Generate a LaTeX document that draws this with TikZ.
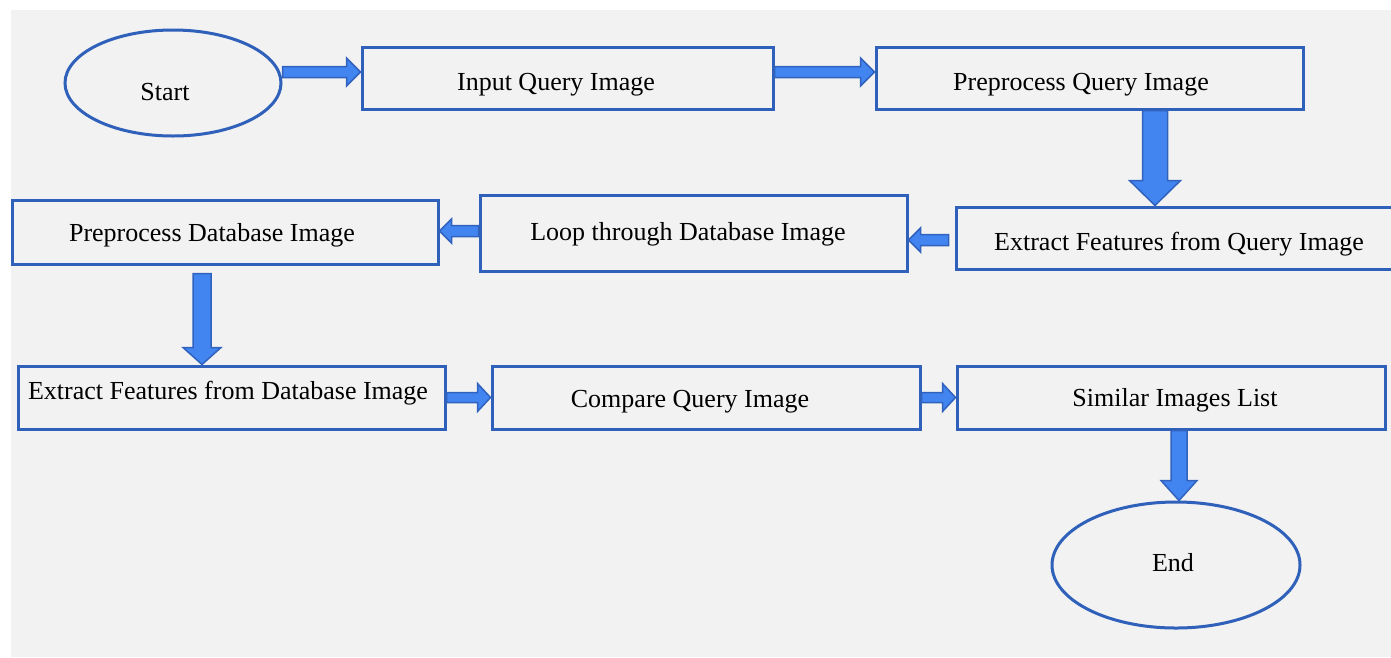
\documentclass[tikz,border=0pt]{standalone}
\usepackage{fontspec}
\setmainfont{Liberation Serif}
\usetikzlibrary{shapes.geometric,calc}
\definecolor{bg}{RGB}{242,242,242}
\definecolor{boxline}{RGB}{47,96,186}
\definecolor{arrfill}{RGB}{66,133,240}
\definecolor{arrline}{RGB}{48,98,190}
\tikzset{
  box/.style={draw=boxline, line width=3pt, rectangle, inner sep=0pt},
  oval/.style={draw=boxline, line width=3pt, ellipse, inner sep=0pt},
  lbl/.style={font=\fontsize{26}{30}\selectfont, text=black, inner sep=0pt},
  barrow/.style={fill=arrfill, draw=arrline, line width=1.5pt, line join=miter},
}
% horizontal block arrow: x from #1 to #2, at y of #2; #3 half shaft, #4 half head, #5 head length
\newcommand\harrow[5]{%
  \filldraw[barrow] let \p1=(#1), \p2=(#2), \n1={sign(\x2-\x1)*#5} in
    (\x1,\y2+#3) -- (\x2-\n1*1pt,\y2+#3) -- (\x2-\n1*1pt,\y2+#4) -- (\x2,\y2)
    -- (\x2-\n1*1pt,\y2-#4) -- (\x2-\n1*1pt,\y2-#3) -- (\x1,\y2-#3) -- cycle;}
% vertical block arrow: y from #1 to #2, at x of #1
\newcommand\varrow[5]{%
  \filldraw[barrow] let \p1=(#1), \p2=(#2), \n1={sign(\y2-\y1)*#5} in
    (\x1+#3,\y1) -- (\x1+#3,\y2-\n1*1pt) -- (\x1+#4,\y2-\n1*1pt) -- (\x1,\y2)
    -- (\x1-#4,\y2-\n1*1pt) -- (\x1-#3,\y2-\n1*1pt) -- (\x1-#3,\y1) -- cycle;}
\begin{document}
\begin{tikzpicture}[x=1pt,y=-1pt]
\useasboundingbox (0,0) rectangle (1391,657);
\clip (0,0) rectangle (1391,657);
\fill[white] (0,0) rectangle (1391,657);
\fill[bg] (11,10) rectangle (1391,657);

\node[oval, minimum width=216pt, minimum height=106pt,
  label={[lbl,xshift=-8pt,yshift=-9pt]center:Start}] (start) at (173,83) {};
\node[box, minimum width=411pt, minimum height=62pt,
  label={[lbl,xshift=-11.5pt,yshift=-7pt]center:Input Query Image}] (in) at (567.5,78) {};
\node[box, minimum width=427pt, minimum height=62pt,
  label={[lbl,xshift=-8.5pt,yshift=-7pt]center:Preprocess Query Image}] (pq) at (1089.5,78) {};
\node[box, minimum width=446pt, minimum height=62pt,
  label={[lbl,yshift=-6pt]center:Extract Features from Query Image}] (eq) at (1179,238) {};
\node[box, minimum width=427pt, minimum height=76pt,
  label={[lbl,xshift=-5.5pt,yshift=-1pt]center:Loop through Database Image}] (loop) at (693.5,233) {};
\node[box, minimum width=426pt, minimum height=64pt,
  label={[lbl,xshift=-13pt,yshift=-3pt]center:Preprocess Database Image}] (pdb) at (225,232) {};
\node[box, minimum width=427pt, minimum height=63pt,
  label={[lbl,xshift=-3.5pt,yshift=4pt]center:Extract Features from Database Image}] (edb) at (231.5,397.5) {};
\node[box, minimum width=428pt, minimum height=63pt,
  label={[lbl,xshift=-16pt,yshift=-4pt]center:Compare Query Image}] (cmp) at (706,397.5) {};
\node[box, minimum width=428pt, minimum height=63pt,
  label={[lbl,xshift=4pt,yshift=-3pt]center:Similar Images List}] (sim) at (1171,397.5) {};
\node[oval, minimum width=248pt, minimum height=126pt,
  label={[lbl,xshift=-3pt,yshift=2pt]center:End}] (end) at (1176,565) {};

\harrow{start.east}{[yshift=6pt]in.west}{5.5pt}{14pt}{14}
\harrow{[yshift=6pt]in.east}{[yshift=6pt]pq.west}{5.5pt}{14pt}{14}
\varrow{[xshift=65.5pt]pq.south}{eq.north}{12.5pt}{25.5pt}{25}
\harrow{[xshift=-6pt]eq.west}{[yshift=-7pt]loop.east}{5.5pt}{12pt}{12}
\harrow{loop.west}{[yshift=1pt]pdb.east}{5.5pt}{12pt}{12}
\varrow{[xshift=-23pt,yshift=-8pt]pdb.south}{edb.north}{9pt}{19pt}{17}
\harrow{edb.east}{cmp.west}{5pt}{14pt}{13}
\harrow{cmp.east}{sim.west}{5pt}{14pt}{13}
\varrow{[xshift=8pt]sim.south}{end.north}{8pt}{18pt}{20}
\end{tikzpicture}
\end{document}
